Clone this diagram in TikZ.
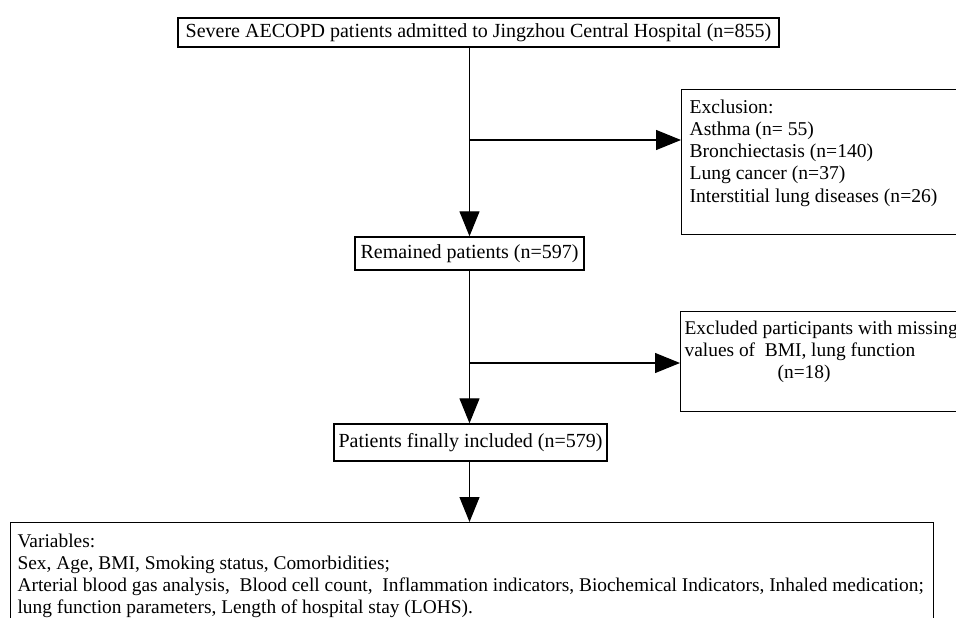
\documentclass[tikz,border=0pt]{standalone}
\usepackage{fontspec}
\setmainfont{Liberation Serif}
\usetikzlibrary{arrows.meta,positioning}

\begin{document}
\begin{tikzpicture}[x=1pt,y=-1pt,line width=1.2pt,
  box/.style={draw,line width=1.4pt,inner sep=0pt,font=\fontsize{20}{22}\selectfont},
  txt/.style={anchor=north west,inner sep=0pt,align=left,font=\fontsize{19.6}{22.2}\selectfont},
  flow/.style={-{Triangle[length=25pt,width=20pt]},line width=1.2pt}]
\useasboundingbox (0,0) rectangle (956,618);
\clip (0,0) rectangle (956,618);

% main column
\node[box,minimum width=601pt,minimum height=29pt] (top) at (478.5,32.5)
  {Severe AECOPD patients admitted to Jingzhou Central Hospital (n=855)};
\node[box,minimum width=229pt,minimum height=33pt] (rem) at (469.5,253.5)
  {Remained patients (n=597)};
\node[box,minimum width=273pt,minimum height=37pt] (fin) at (470.5,442.5)
  {Patients finally included (n=579)};

% exclusion boxes
\node[box,anchor=north west,minimum width=300pt,minimum height=145pt] (excl) at (681,89) {};
\node[txt] (excltxt) at (689,99)
  {Exclusion:\\Asthma (n= 55)\\Bronchiectasis (n=140)\\Lung cancer (n=37)\\Interstitial lung diseases (n=26)};
\node[box,anchor=north west,minimum width=300pt,minimum height=100pt] (miss) at (680,311) {};
\node[txt,font=\fontsize{19.4}{22.2}\selectfont] (misstxt) at (684,320)
  {Excluded participants with missing\\values of \ BMI, lung function\\\hspace*{93pt}(n=18)};

% variables
\node[box,anchor=north west,minimum width=923pt,minimum height=120pt] (vars) at (10,522) {};
\node[txt,font=\fontsize{19.4}{22}\selectfont] (varstxt) at (17,533)
  {Variables:\\Sex, Age, BMI, Smoking status, Comorbidities;\\Arterial blood gas analysis, \ Blood cell count, \ Inflammation indicators, Biochemical Indicators, Inhaled medication;\\lung function parameters, Length of hospital stay (LOHS).};

% arrows
\coordinate (b1) at (470,140);
\coordinate (b2) at (470,363);
\draw[flow] (top.south -| rem.north) -- (rem.north);
\draw[flow] (b1) -- (b1 -| excl.west);
\draw[flow] (rem.south) -- (rem.south |- fin.north);
\draw[flow] (fin.south -| rem.south) -- (vars.north -| rem.south);
\draw[flow] (b2) -- (b2 -| miss.west);
\end{tikzpicture}
\end{document}
